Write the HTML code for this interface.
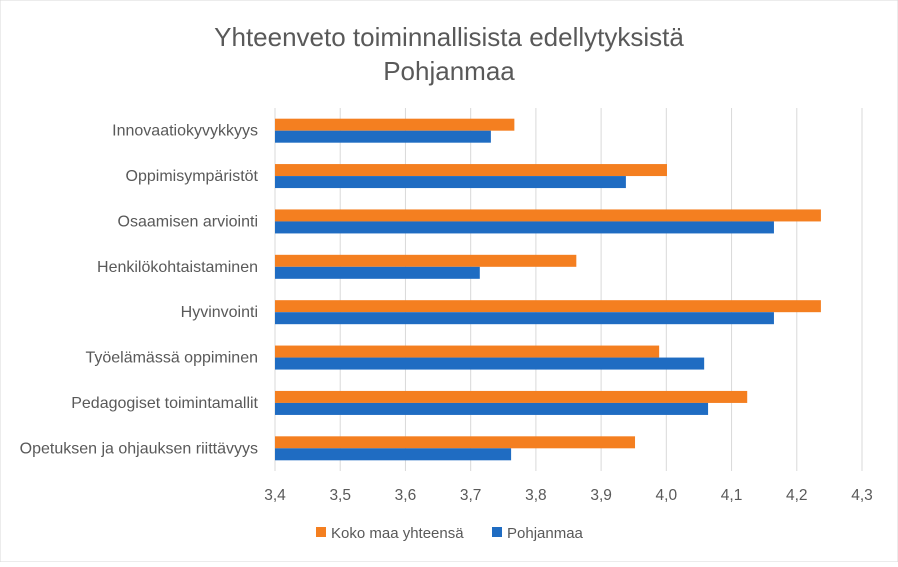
<!DOCTYPE html>
<html><head><meta charset="utf-8"><style>
body{margin:0;background:#fff;font-family:"Liberation Sans",sans-serif;}
svg text{font-family:"Liberation Sans",sans-serif;fill:#595959;}
</style></head><body>
<svg id="c" width="898" height="562">
<rect x="0" y="0" width="898" height="562" fill="#fff" stroke="#d9d9d9"/>
<text x="449" y="46" text-anchor="middle" font-size="26">Yhteenveto toiminnallisista edellytyksistä</text>
<text x="449" y="80" text-anchor="middle" font-size="26">Pohjanmaa</text>
<g id="grid"></g><g id="bars"></g><g id="labels"></g>
<g>
<rect x="316" y="527" width="10" height="10" fill="#f47f20"/>
<text x="331" y="538" font-size="15">Koko maa yhteensä</text>
<rect x="492" y="527" width="10" height="10" fill="#1f6cc2"/>
<text x="507" y="538" font-size="15">Pohjanmaa</text>
</g>
</svg>
<script>
const categories=["Innovaatiokyvykkyys","Oppimisympäristöt","Osaamisen arviointi","Henkilökohtaistaminen","Hyvinvointi","Työelämässä oppiminen","Pedagogiset toimintamallit","Opetuksen ja ohjauksen riittävyys"];
const kokoMaa=[3.767,4.001,4.237,3.862,4.237,3.989,4.124,3.952];
const pohjanmaa=[3.731,3.938,4.165,3.714,4.165,4.058,4.064,3.762];
const ticks=[3.4,3.5,3.6,3.7,3.8,3.9,4.0,4.1,4.2,4.3];
const tickLabels=["3,4","3,5","3,6","3,7","3,8","3,9","4,0","4,1","4,2","4,3"];
const NS="http://www.w3.org/2000/svg";
const x0=275,x1=862,yTop=108,yBot=471,vMin=3.4,vMax=4.3;
const xs=v=>x0+(v-vMin)/(vMax-vMin)*(x1-x0);
const band=(yBot-yTop)/categories.length;
function mk(t,a,p){const e=document.createElementNS(NS,t);for(const k in a)e.setAttribute(k,a[k]);p.appendChild(e);return e;}
const g=document.getElementById('grid'),b=document.getElementById('bars'),l=document.getElementById('labels');
ticks.forEach((t,i)=>{
 const ln=mk('line',{x1:xs(t),x2:xs(t),y1:yTop,y2:yBot,stroke:'#d9d9d9','stroke-width':1},g);
 
 
 const tx=mk('text',{x:xs(t),y:500,'text-anchor':'middle','font-size':15.5},l);
 tx.textContent=tickLabels[i];
 
 
});
categories.forEach((c,i)=>{
 const cy=yTop+band*(i+0.5);
 const r1=mk('rect',{x:x0,y:cy-12,width:xs(kokoMaa[i])-x0,height:12,fill:'#f47f20'},b);
 
 
 const r2=mk('rect',{x:x0,y:cy,width:xs(pohjanmaa[i])-x0,height:12,fill:'#1f6cc2'},b);
 
 
 const tx=mk('text',{x:258,y:cy+5,'text-anchor':'end','font-size':16,textLength:null},l);
 tx.removeAttribute('textLength');
 tx.textContent=c;
 
 
});
</script>
</body></html>
